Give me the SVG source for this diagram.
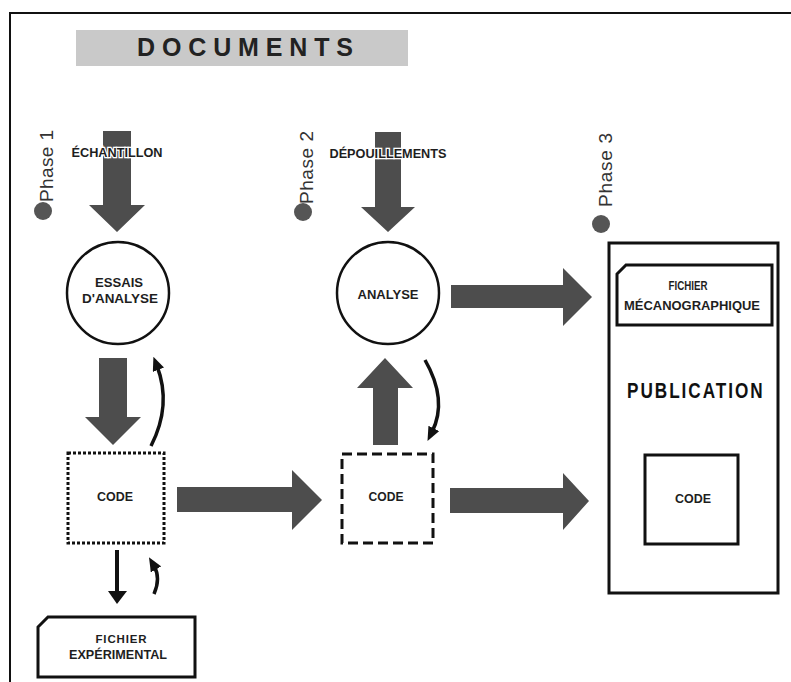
<svg xmlns="http://www.w3.org/2000/svg" width="791" height="682" viewBox="0 0 791 682">
<style>
.lbl{font-family:"Liberation Sans",Arial,sans-serif;font-weight:bold;font-size:12.5px;fill:#1e1e1e;text-anchor:middle}
.phase{font-family:"Liberation Sans",Arial,sans-serif;font-size:19px;fill:#333}
.big{fill:#4d4d4d}
.dot{fill:#555}
.box{fill:#fff;stroke:#111;stroke-width:3}
.circ{fill:#fff;stroke:#111;stroke-width:2.5}
.curve{fill:none;stroke:#111;stroke-width:3.5}
.halo{paint-order:stroke;stroke:#fff;stroke-width:2.5px}
</style>
<defs>
<marker id="ah" markerUnits="userSpaceOnUse" markerWidth="14" markerHeight="12" refX="4" refY="6" orient="auto">
<path d="M0,0 L14,6 L0,12 z" fill="#111"/>
</marker>
</defs>
<rect width="791" height="682" fill="#fff"/>
<path d="M10,682 L10,13 L791,13" fill="none" stroke="#111" stroke-width="2"/>
<g id="title">
<rect x="76" y="30" width="332" height="36" fill="#c9c9c9"/>
<text x="137" y="56" textLength="216" lengthAdjust="spacing" style="font-family:'Liberation Sans',Arial,sans-serif;font-weight:bold;font-size:25px;fill:#222">DOCUMENTS</text>
</g>
<g id="phase1">
<circle class="dot" cx="43" cy="211" r="9"/>
<text class="phase" transform="translate(53,202) rotate(-90)" textLength="72" lengthAdjust="spacing">Phase 1</text>
</g>
<g id="phase2">
<circle class="dot" cx="303" cy="212" r="9"/>
<text class="phase" transform="translate(313,204) rotate(-90)" textLength="73" lengthAdjust="spacing">Phase 2</text>
</g>
<g id="phase3">
<circle class="dot" cx="601" cy="224" r="9"/>
<text class="phase" transform="translate(612,207) rotate(-90)" textLength="74" lengthAdjust="spacing">Phase  3</text>
</g>
<g id="connectors">
<polygon class="big" points="103,131 131,131 131,205 145,205 117,232 89,205 103,205"/>
<polygon class="big" points="99,358 127,358 127,417 141,417 113,445 85,417 99,417"/>
<polygon class="big" points="177,487 292,487 292,470 322,500 292,530 292,512 177,512"/>
<polygon class="big" points="375,132 401,132 401,207 415,207 388,232 361,207 375,207"/>
<polygon class="big" points="373,445 398,445 398,388 413,388 385,358 357,388 373,388"/>
<polygon class="big" points="451,285 563,285 563,268 592,297 563,326 563,308 451,308"/>
<polygon class="big" points="450,488 563,488 563,473 589,501 563,530 563,513 450,513"/>
<path class="curve" d="M151,446 Q172,405 157,366" marker-end="url(#ah)"/>
<path class="curve" d="M425,360 Q448,400 432,432" marker-end="url(#ah)"/>
<path d="M117,550 L117,592" stroke="#111" stroke-width="4"/>
<polygon points="108,591 127,591 117,604" fill="#111"/>
<path class="curve" d="M154,594 Q161,578 154,566" marker-end="url(#ah)"/>
</g>
<g id="echantillon">
<text class="lbl halo" x="117" y="157" textLength="91" lengthAdjust="spacingAndGlyphs">ÉCHANTILLON</text>
</g>
<g id="depouillements">
<text class="lbl halo" x="388" y="158" textLength="117" lengthAdjust="spacingAndGlyphs">DÉPOUILLEMENTS</text>
</g>
<g id="essais">
<circle class="circ" cx="118" cy="293" r="51"/>
<text class="lbl" x="119" y="287" textLength="48" lengthAdjust="spacingAndGlyphs">ESSAIS</text>
<text class="lbl" x="120" y="303" textLength="76" lengthAdjust="spacingAndGlyphs">D'ANALYSE</text>
</g>
<g id="analyse">
<circle class="circ" cx="388" cy="293" r="51"/>
<text class="lbl" x="388" y="299" textLength="61" lengthAdjust="spacingAndGlyphs">ANALYSE</text>
</g>
<g id="code1">
<rect class="box" x="68" y="453" width="96" height="90" stroke-dasharray="3 2"/>
<text class="lbl" x="115" y="501" textLength="36" lengthAdjust="spacingAndGlyphs">CODE</text>
</g>
<g id="code2">
<rect class="box" x="342" y="454" width="91" height="89" stroke-dasharray="10 5"/>
<text class="lbl" x="386" y="501" textLength="35" lengthAdjust="spacingAndGlyphs">CODE</text>
</g>
<g id="fichier-exp">
<polygon class="box" points="38,627 48,617 195,617 195,677 38,677"/>
<text class="lbl" x="121" y="643" textLength="51" lengthAdjust="spacing" style="font-size:11.5px">FICHIER</text>
<text class="lbl" x="118" y="659" textLength="98" lengthAdjust="spacingAndGlyphs">EXPÉRIMENTAL</text>
</g>
<g id="publication">
<rect class="box" x="609" y="243" width="169" height="350"/>
<polygon class="box" points="617,274 626,265 772,265 772,325 617,325"/>
<text class="lbl" x="688" y="290" textLength="39" lengthAdjust="spacingAndGlyphs">FICHIER</text>
<text class="lbl" x="692" y="310" textLength="136" lengthAdjust="spacingAndGlyphs">MÉCANOGRAPHIQUE</text>
<text transform="translate(627,398) scale(0.78,1)" x="0" y="0" textLength="174" lengthAdjust="spacing" style="font-family:'Liberation Sans',Arial,sans-serif;font-weight:bold;font-size:22px;fill:#111">PUBLICATION</text>
<rect class="box" x="645" y="455" width="93" height="89"/>
<text class="lbl" x="693" y="503" textLength="36" lengthAdjust="spacingAndGlyphs">CODE</text>
</g>
</svg>
